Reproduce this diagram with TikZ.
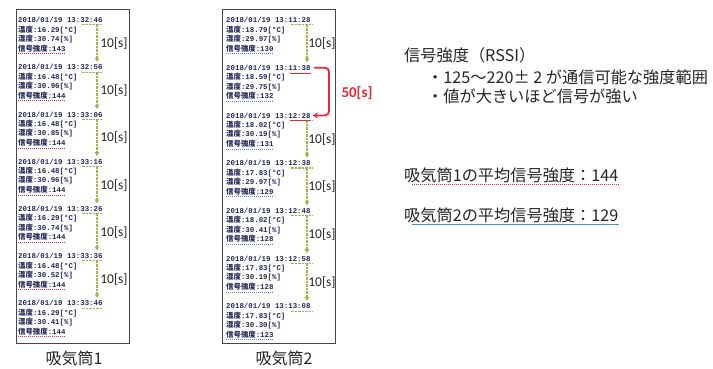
\documentclass[tikz,border=0pt]{standalone}
\usepackage{fontspec}
\setmainfont{Carlito}
\newfontfamily\jp{Noto Sans CJK JP}
\newfontfamily\monof{Liberation Mono}
\usetikzlibrary{arrows.meta}
\definecolor{navy}{RGB}{35,40,90}
\definecolor{gline}{RGB}{150,185,80}
\definecolor{rline}{RGB}{232,40,55}
\definecolor{bline}{RGB}{70,140,220}
\definecolor{boxc}{RGB}{70,70,70}
\tikzset{
  panel/.style={draw=boxc, line width=0.9pt},
  rects/.style={anchor=west, inner sep=0pt, text=navy, font=\monof\bfseries\fontsize{7.4}{9}\selectfont},
  recl/.style={anchor=west, inner sep=0pt, text=navy, font=\monof\bfseries\fontsize{7.4}{9}\selectfont},
  gunder/.style={draw=gline, line width=1.1pt, dash pattern=on 2.5pt off 1pt},
  garrow/.style={draw=gline, line width=1.1pt, dash pattern=on 2.5pt off 1pt, -{Triangle[length=4pt,width=4.5pt]}},
  rarrow/.style={draw=rline, line width=1.8pt, rounded corners=4pt, -{Stealth[length=5pt,width=6pt]}},
  runder/.style={draw=rline, line width=1pt},
  sred/.style={draw=rline, line width=1pt, densely dotted},
  sblue/.style={draw=bline, line width=1pt, densely dotted},
  tlabel/.style={inner sep=0pt, font=\fontsize{13.5}{15}\selectfont, text=black!85},
  rlabel/.style={inner sep=0pt, font=\bfseries\fontsize{15}{17}\selectfont, text=rline},
  jtext/.style={anchor=west, inner sep=0pt, font=\jp\fontsize{16.2}{18}\selectfont, text=black!85},
  caption/.style={inner sep=0pt, font=\jp\fontsize{16}{18}\selectfont, text=black!85}
}
\newcommand\myrec[7]{%
  \node[rects] (#1ts) at (#2,#3) {2018/01/19 #4};
  \node[recl] (#1t) at (#2,#3+9.6) {{\jp 温度}:#5[°C]};
  \node[recl] (#1h) at (#2,#3+18.9) {{\jp 湿度}:#6[\%]};
  \node[recl] (#1s) at (#2,#3+28.2) {{\jp 信号強度}:#7};
}
\begin{document}
\begin{tikzpicture}[x=1pt,y=-1pt]
\useasboundingbox (0,0) rectangle (713,368);
\fill[white] (0,0) rectangle (713,368);

% panels
\draw[panel] (16,9) rectangle (129,343);
\draw[panel] (222,9) rectangle (335,343);

% panel 1 records
\myrec{a1}{18}{20}{13:32:46}{16.29}{30.74}{143}
\myrec{a2}{18}{67.2}{13:32:56}{16.48}{30.96}{144}
\myrec{a3}{18}{114.4}{13:33:06}{16.48}{30.85}{144}
\myrec{a4}{18}{161.6}{13:33:16}{16.48}{30.96}{144}
\myrec{a5}{18}{208.8}{13:33:26}{16.29}{30.74}{144}
\myrec{a6}{18}{256}{13:33:36}{16.48}{30.52}{144}
\myrec{a7}{18}{303.2}{13:33:46}{16.29}{30.41}{144}

% panel 2 records
\myrec{b1}{226}{20}{13:11:28}{18.79}{29.97}{130}
\myrec{b2}{226}{67.7}{13:11:38}{18.59}{29.75}{132}
\myrec{b3}{226}{115.4}{13:12:28}{18.02}{30.19}{131}
\myrec{b4}{226}{163.1}{13:12:38}{17.83}{29.97}{129}
\myrec{b5}{226}{210.8}{13:12:48}{18.02}{30.41}{128}
\myrec{b6}{226}{258.5}{13:12:58}{17.83}{30.19}{128}
\myrec{b7}{226}{306.2}{13:13:08}{17.83}{30.30}{123}

% signal underlines
\foreach \r in {a1,a2,a3,a4,a5,a6,a7}{
  \draw[sred] ([yshift=-1.8pt]\r s.south west) -- ([yshift=-1.8pt]\r s.south east);
}
\foreach \r in {b1,b2,b3,b4,b5,b6,b7}{
  \draw[sblue] ([yshift=-1.8pt]\r s.south west) -- ([yshift=-1.8pt]\r s.south east);
}

% panel 1 green arrows and labels
\foreach \r/\n/\ly in {a1/a2/43.6,a2/a3/90.8,a3/a4/138,a4/a5/185.2,a5/a6/232.4,a6/a7/279.6}{
  \coordinate (\r u1) at ([yshift=-2pt]\r ts.south east -| 82,0);
  \coordinate (\r u2) at ([yshift=-2pt]\r ts.south east);
  \draw[gunder] (\r u1) -- (\r u2);
  \coordinate (\r d1) at (\r u2 -| 97,0);
  \coordinate (\r d2) at ([yshift=2.5pt]\n ts.north -| 97,0);
  \draw[garrow] (\r d1) -- (\r d2);
  \node[tlabel] (\r lab) at (114,\ly) {10[s]};
}
\coordinate (a7u1) at ([yshift=-2pt]a7ts.south east -| 82,0);
\coordinate (a7u2) at ([yshift=-2pt]a7ts.south east);
\draw[gunder] (a7u1) -- (a7u2);

% panel 2 green arrows and labels
\foreach \r/\n/\ly in {b1/b2/43.8,b3/b4/139.2,b4/b5/186.9,b5/b6/234.6,b6/b7/282.3}{
  \coordinate (\r u1) at ([yshift=-2pt]\r ts.south east -| 291,0);
  \coordinate (\r u2) at ([yshift=-2pt,xshift=2pt]\r ts.south east);
  \draw[gunder] (\r u1) -- (\r u2);
  \coordinate (\r d1) at (\r u2 -| 307,0);
  \coordinate (\r d2) at ([yshift=2.5pt]\n ts.north -| 307,0);
  \draw[garrow] (\r d1) -- (\r d2);
  \node[tlabel] (\r lab) at (322,\ly) {10[s]};
}
\coordinate (b7u1) at ([yshift=-2pt]b7ts.south east -| 291,0);
\coordinate (b7u2) at ([yshift=-2pt,xshift=2pt]b7ts.south east);
\draw[gunder] (b7u1) -- (b7u2);

% red underlines and 50[s] connector
\draw[runder] ([yshift=-2.5pt]b2ts.south east -| 290,0) -- ([yshift=-2.5pt]b2ts.south east);
\draw[runder] ([yshift=-2.5pt]b3ts.south east -| 290,0) -- ([yshift=-2.5pt]b3ts.south east);
\coordinate (r1) at ([xshift=3pt]b2ts.east);
\coordinate (r2) at ([xshift=2pt]b3ts.east);
\draw[rarrow] (r1) -- (r1 -| 329,0) -- (r2 -| 329,0) -- (r2);
\node[rlabel] (fifty) at (357,93) {50[s]};

% right-hand notes
\node[jtext] (n1) at (404,55) {信号強度（RSSI）};
\node[jtext] (n2) at (427,77) {・125～220± 2 が通信可能な強度範囲};
\node[jtext] (n3) at (427,96) {・値が大きいほど信号が強い};
\node[jtext] (n4) at (404,175) {吸気筒1の平均信号強度：144};
\node[jtext] (n5) at (404,215) {吸気筒2の平均信号強度：129};
\draw[sred, line width=0.8pt] ([xshift=8pt]n4.south west |- 0,184) -- (n4.south east |- 0,184);
\draw[draw=bline, line width=0.9pt] ([xshift=8pt]n5.south west |- 0,224.5) -- (n5.south east |- 0,224.5);

% captions
\node[caption] (c1) at (74,358) {吸気筒1};
\node[caption] (c2) at (284,358) {吸気筒2};
\end{tikzpicture}
\end{document}
